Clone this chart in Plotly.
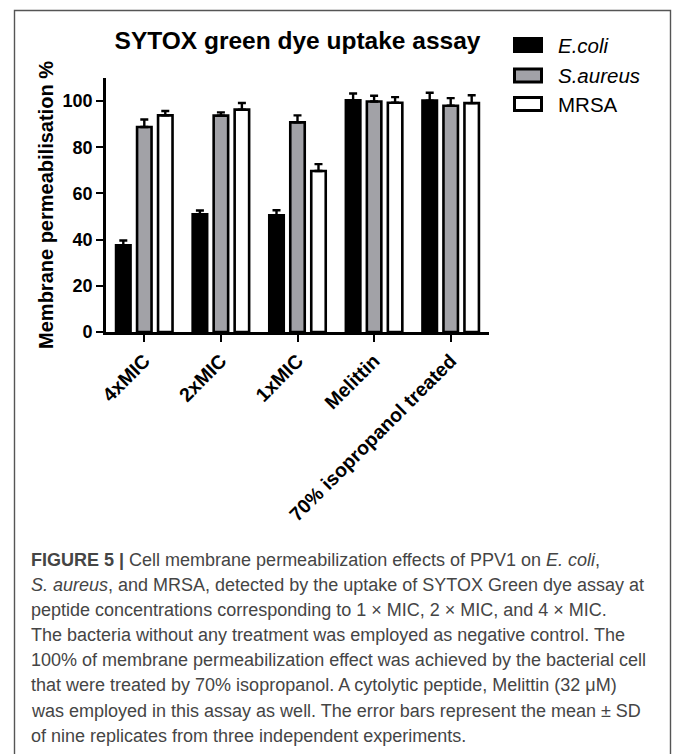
import plotly.graph_objects as go

categories = ["4xMIC", "2xMIC", "1xMIC", "Melittin", "70% isopropanol treated"]
series_names = ["E.coli", "S.aureus", "MRSA"]
ecoli = [37.6, 51.0, 50.5, 100.3, 100.2]
ecoli_sd = [2.0, 1.6, 2.2, 3.0, 3.4]
saureus = [88.8, 93.7, 90.8, 99.8, 98.0]
saureus_sd = [3.2, 1.4, 3.0, 2.5, 3.3]
mrsa = [93.8, 96.3, 69.7, 99.3, 99.1]
mrsa_sd = [1.9, 2.9, 3.0, 2.4, 3.4]
y_ticks = [0, 20, 40, 60, 80, 100]

fills = ["#000000", "#a2a2a7", "#ffffff"]
FONT = "Liberation Sans, Arial, sans-serif"

W, H = 673, 754
L, R, T, B = 106, 184, 78, 422
PW, PH = W - L - R, H - T - B


def xp(px):
    return (px - L) / PW


def yp(py):
    return (H - B - py) / PH


fig = go.Figure()
for name, vals, sd, col in zip(series_names, [ecoli, saureus, mrsa],
                               [ecoli_sd, saureus_sd, mrsa_sd], fills):
    fig.add_trace(go.Bar(
        x=categories, y=vals, name=name,
        marker=dict(color=col, line=dict(color="#000000", width=2.6)),
        error_y=dict(type="data", array=sd, arrayminus=[0] * len(sd),
                     symmetric=False, color="#000000", thickness=2.4, width=4),
        showlegend=False,
    ))

fig.update_layout(
    width=W, height=H,
    margin=dict(l=L, r=R, t=T, b=B, autoexpand=False),
    paper_bgcolor="white", plot_bgcolor="white",
    barmode="group", bargap=0.178, bargroupgap=0.31,
    font=dict(family=FONT, color="#000000"),
    title=dict(text="<b>SYTOX green dye uptake assay</b>",
               font=dict(size=24.5, family=FONT, color="#000000"),
               x=xp(297.5), xref="paper", xanchor="center",
               y=1 - 40 / H, yref="container", yanchor="middle"),
)

fig.update_xaxes(
    showline=True, linecolor="#000000", linewidth=2.6,
    ticks="outside", ticklen=7, tickwidth=2.4, tickcolor="#000000",
    tickangle=-45, showgrid=False, zeroline=False,
    tickfont=dict(size=19.5, family=FONT, color="#000000", weight="bold"),
    range=[-0.5, 4.5],
)
fig.update_yaxes(
    range=[0, 110], tickvals=y_ticks,
    showline=True, linecolor="#000000", linewidth=2.6,
    ticks="outside", ticklen=7, tickwidth=2.4, tickcolor="#000000",
    showgrid=False, zeroline=False,
    tickfont=dict(size=18, family=FONT, color="#000000", weight="bold"),
    title=dict(text="<b>Membrane permeabilisation %</b>",
               font=dict(size=20, family=FONT, color="#000000"), standoff=4),
)

shapes = []
# outer frame
shapes.append(dict(type="rect", xref="paper", yref="paper",
                   x0=xp(14.5), x1=xp(670.5), y0=yp(10.5), y1=yp(800),
                   line=dict(color="#555555", width=1.4), fillcolor="rgba(0,0,0,0)",
                   layer="above"))

annotations = []
legend_rows = [45, 75.5, 104]
legend_labels = ["<i>E.coli</i>", "<i>S.aureus</i>", "MRSA"]
for cy, lab, col in zip(legend_rows, legend_labels, fills):
    shapes.append(dict(type="rect", xref="paper", yref="paper",
                       x0=xp(514.5), x1=xp(541.5), y0=yp(cy - 6.5), y1=yp(cy + 6.5),
                       line=dict(color="#000000", width=3), fillcolor=col, layer="above"))
    annotations.append(dict(text=lab, xref="paper", yref="paper",
                            x=xp(556), y=yp(cy), xanchor="left", yanchor="middle",
                            showarrow=False,
                            font=dict(size=20.5, family=FONT, color="#000000")))

caption = [
    "<b>FIGURE 5 |</b> Cell membrane permeabilization effects of PPV1 on <i>E. coli</i>,",
    "<i>S. aureus</i>, and MRSA, detected by the uptake of SYTOX Green dye assay at",
    "peptide concentrations corresponding to 1 × MIC, 2 × MIC, and 4 × MIC.",
    "The bacteria without any treatment was employed as negative control. The",
    "100% of membrane permeabilization effect was achieved by the bacterial cell",
    "that were treated by 70% isopropanol. A cytolytic peptide, Melittin (32 μM)",
    "was employed in this assay as well. The error bars represent the mean ± SD",
    "of nine replicates from three independent experiments.",
]
for i, line in enumerate(caption):
    base = 566 + 25.1 * i
    annotations.append(dict(text=line, xref="paper", yref="paper",
                            x=xp(29), y=yp(base - 6), xanchor="left", yanchor="middle",
                            showarrow=False,
                            font=dict(size=18.0, family=FONT, color="#454545")))

fig.update_layout(shapes=shapes, annotations=annotations)
fig.write_html("out.html")
